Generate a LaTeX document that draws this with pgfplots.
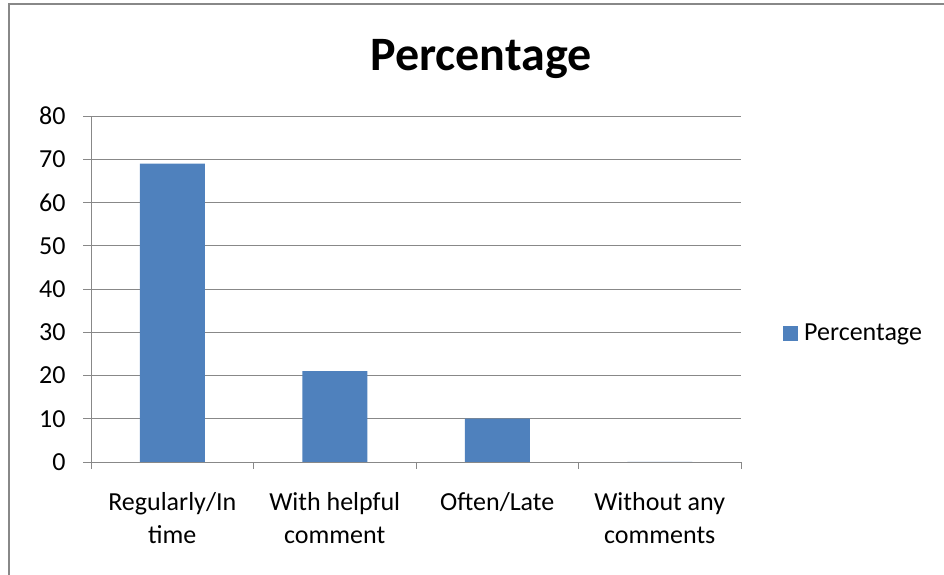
\documentclass[border=0pt]{standalone}
\usepackage{pgfplots}
\pgfplotsset{compat=1.18}
\usepackage{fontspec}
\setmainfont{Carlito}
\definecolor{barblue}{HTML}{4F81BD}
\definecolor{gridgray}{HTML}{888888}
\begin{document}
\begin{tikzpicture}[x=1bp,y=1bp]
\useasboundingbox (0,0) rectangle (944,575);
% chart area frame (left and top edges)
\draw[gridgray, line width=2bp] (8.5,0) |- (944,571);
\begin{axis}[
  at={(91bp,113bp)}, anchor=south west,
  scale only axis, width=650bp, height=346bp,
  xmin=-0.5, xmax=3.5, ymin=0, ymax=80,
  ytick={0,10,...,80},
  xtick={0,1,2,3},
  xticklabels={{Regularly/In\\time},{With helpful\\comment},{Often/Late},{Without any\\comments}},
  minor xtick={-0.5,0.5,1.5,2.5,3.5},
  major x tick style={draw=none},
  tick align=outside,
  major tick length=8bp, minor tick length=7bp,
  xtick pos=bottom, ytick pos=left,
  axis x line*=bottom, axis y line*=left,
  axis line style={gridgray, line width=0.9bp, -},
  every tick/.style={gridgray, line width=0.9bp},
  ymajorgrids, grid style={gridgray, line width=0.9bp},
  /pgf/number format/assume math mode=true,
  tick label style={font=\fontsize{26bp}{33bp}\selectfont, text=black},
  xticklabel style={align=center, anchor=north, yshift=-19bp},
  yticklabel style={anchor=east, xshift=-14bp},
  title={Percentage},
  title style={font=\fontsize{48bp}{56bp}\selectfont\bfseries, at={(0.6,1)}, anchor=base, yshift=40bp},
  legend style={draw=none, at={(1.0646,0.3728)}, anchor=west, inner sep=0pt,
    font=\fontsize{26bp}{32bp}\selectfont, nodes={inner xsep=6bp}},
  legend image code/.code={\fill[#1] (0bp,-7.5bp) rectangle (15bp,7.5bp);},
  clip=false,
]
\addplot[ybar, bar width=0.4, fill=barblue, draw=none] coordinates {
  (0,69) (1,21) (2,10) (3,0)
};
\addlegendentry{Percentage}
\end{axis}
\end{tikzpicture}
\end{document}
